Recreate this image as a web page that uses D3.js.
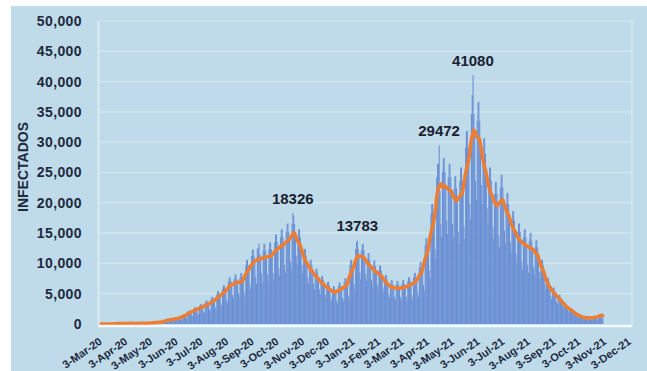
<!DOCTYPE html>
<html>
<head>
<meta charset="utf-8">
<script src="https://cdn.jsdelivr.net/npm/d3@7"></script>
<style>
  html, body { margin: 0; padding: 0; background: #ffffff; }
  svg { display: block; }
  text { font-family: "Liberation Sans", Arial, sans-serif; font-weight: bold; }
</style>
</head>
<body>
<svg id="chart" width="647" height="371"></svg>
<script>
// Daily new infections, one row per week (Tue..Mon), starting 3 March 2020
const firstDay = "2020-03-03";
const dailyCases = [
  1, 0, 0, 6, 1, 0, 4,
  2, 5, 12, 3, 10, 11, 11,
  14, 18, 31, 30, 67, 41, 35,
  36, 87, 86, 101, 55, 75, 88,
  146, 76, 91, 100, 88, 113, 67,
  87, 116, 115, 143, 87, 74, 103,
  76, 82, 94, 150, 104, 96, 90,
  94, 113, 132, 136, 111, 173, 102,
  111, 158, 144, 133, 188, 104, 135,
  178, 240, 263, 247, 264, 165, 172,
  308, 316, 375, 326, 368, 263, 254,
  472, 570, 703, 713, 696, 541, 452,
  786, 856, 797, 910, 781, 660, 553,
  904, 1135, 1096, 1056, 959, 777, 713,
  1340, 1520, 1600, 1440, 1300, 1050, 900,
  2040, 2180, 2240, 2080, 1900, 1440, 1300,
  2500, 2750, 2780, 2600, 2350, 1750, 1550,
  2950, 3250, 3300, 3050, 2750, 2050, 1800,
  3500, 3850, 3880, 3550, 3200, 2400, 2100,
  4050, 4450, 4500, 4100, 3700, 2780, 2400,
  4900, 5400, 5450, 4950, 4500, 3400, 2950,
  5800, 6350, 6400, 5850, 5300, 4000, 3450,
  7000, 7650, 7700, 7050, 6400, 4800, 4200,
  7450, 8150, 8200, 7500, 6800, 5100, 4450,
  7700, 8400, 8450, 7700, 7000, 5250, 4550,
  9650, 10550, 10600, 9700, 8800, 6600, 5700,
  11200, 12250, 12300, 11200, 10200, 7650, 6650,
  12400, 12600, 13300, 11600, 10500, 8400, 6800,
  12100, 13200, 13250, 12100, 11000, 8250, 7150,
  12300, 13450, 13500, 12300, 11200, 8400, 7300,
  13500, 14750, 14800, 13550, 12300, 9200, 8000,
  14300, 15600, 15650, 14300, 13000, 9750, 8450,
  15200, 16550, 16600, 15200, 13800, 10350, 8950,
  16500, 18326, 17900, 16500, 15000, 11250, 9750,
  14300, 15600, 15650, 14300, 13000, 9750, 8450,
  11300, 12350, 12400, 11300, 10300, 7700, 6700,
  9700, 10550, 10600, 9700, 8800, 6600, 5700,
  8350, 9100, 9150, 8350, 7600, 5700, 4950,
  7250, 7900, 7950, 7250, 6600, 4950, 4300,
  6400, 6950, 7000, 6400, 5800, 4350, 3750,
  5700, 6250, 6250, 5700, 5200, 3900, 3400,
  6250, 6850, 6850, 6250, 5700, 4300, 3700,
  6950, 7550, 7600, 6950, 6300, 4700, 4100,
  9700, 10550, 10600, 9700, 8800, 6600, 5700,
  12400, 13550, 13783, 12400, 11300, 8500, 7350,
  12100, 13200, 13250, 12100, 11000, 8250, 7150,
  10650, 11650, 11700, 10650, 9700, 7300, 6300,
  9550, 10450, 10500, 9550, 8700, 6500, 5650,
  8800, 9600, 9650, 8800, 8000, 6000, 5200,
  7350, 8050, 8100, 7350, 6700, 5000, 4350,
  6600, 7200, 7250, 6600, 6000, 4500, 3900,
  6500, 7100, 7100, 6500, 5900, 4400, 3850,
  6600, 7200, 7250, 6600, 6000, 4500, 3900,
  7050, 7700, 7700, 7050, 6400, 4800, 4150,
  7700, 8400, 8450, 7700, 7000, 5250, 4550,
  9350, 10200, 10250, 9350, 8500, 6400, 5500,
  13000, 14150, 14200, 13000, 11800, 8850, 7650,
  18150, 19800, 19850, 18150, 16500, 12400, 10700,
  24200, 26400, 26500, 29472, 22000, 16500, 14300,
  25100, 27350, 27400, 25100, 22800, 17100, 14800,
  24200, 26400, 26450, 24200, 22000, 16500, 14300,
  22350, 24350, 24400, 22350, 20300, 15200, 13200,
  23650, 25800, 25850, 23650, 21500, 16100, 14000,
  29150, 31800, 31850, 29150, 26500, 19900, 17200,
  34650, 37800, 41080, 34650, 31500, 23600, 20500,
  33550, 36600, 36650, 33550, 30500, 22900, 19800,
  28050, 30600, 30650, 28050, 25500, 19100, 16600,
  23650, 25800, 25850, 23650, 21500, 16100, 14000,
  21450, 23400, 23450, 21450, 19500, 14600, 12700,
  22550, 24600, 24650, 22550, 20500, 15400, 13300,
  19800, 21600, 21650, 19800, 18000, 13500, 11700,
  17050, 18600, 18650, 17050, 15500, 11600, 10100,
  15200, 16550, 16600, 15200, 13800, 10350, 8950,
  14300, 15600, 15650, 14300, 13000, 9750, 8450,
  13750, 15000, 15050, 13750, 12500, 9400, 8100,
  12650, 13800, 13850, 12650, 11500, 8600, 7500,
  9700, 10550, 10600, 9700, 8800, 6600, 5700,
  6950, 7550, 7600, 6950, 6300, 4700, 4100,
  5500, 6000, 6050, 5500, 5000, 3750, 3250,
  4400, 4800, 4850, 4400, 4000, 3000, 2600,
  3200, 3500, 3500, 3200, 2900, 2200, 1900,
  2400, 2650, 2650, 2400, 2200, 1650, 1450,
  1650, 1800, 1800, 1650, 1500, 1100, 1000,
  1200, 1300, 1350, 1200, 1100, 800, 700,
  1100, 1200, 1200, 1100, 1000, 750, 650,
  1200, 1300, 1350, 1200, 1100, 800, 700,
  1500, 1600, 1650, 1500, 1350, 1000
];

// Days whose counts are printed above the bars
const peakDates = ["2020-10-21", "2021-01-07", "2021-04-16", "2021-05-27"];

const yTicks = [0, 5000, 10000, 15000, 20000, 25000, 30000, 35000, 40000, 45000, 50000];
const xTickLabels = ["3-Mar-20", "3-Apr-20", "3-May-20", "3-Jun-20", "3-Jul-20", "3-Aug-20",
  "3-Sep-20", "3-Oct-20", "3-Nov-20", "3-Dec-20", "3-Jan-21", "3-Feb-21", "3-Mar-21",
  "3-Apr-21", "3-May-21", "3-Jun-21", "3-Jul-21", "3-Aug-21", "3-Sep-21", "3-Oct-21",
  "3-Nov-21", "3-Dec-21"];
const yTitle = "INFECTADOS";

const parseIso = d3.utcParse("%Y-%m-%d");
const parseTick = d3.utcParse("%-d-%b-%y");
const start = parseIso(firstDay);
const data = dailyCases.map((v, i) => ({ date: d3.utcDay.offset(start, i), value: v }));

// centred 7-day average
const avg = data.map((d, i) => {
  const win = data.slice(Math.max(0, i - 3), Math.min(data.length, i + 4));
  return { date: d.date, value: d3.mean(win, w => w.value) };
});

const tickDates = xTickLabels.map(parseTick);

const svg = d3.select("#chart");
const plotLeft = 98, plotRight = 632, plotTop = 21, plotBottom = 324;

const x = d3.scaleUtc().domain([tickDates[0], tickDates[tickDates.length - 1]]).range([101, 630]);
const y = d3.scaleLinear().domain([0, 50000]).range([plotBottom, plotTop]);

// panel background
svg.append("rect").attr("x", 11).attr("y", 6).attr("width", 636).attr("height", 365)
  .attr("fill", "#bfdbea");

// horizontal gridlines
svg.append("g").selectAll("line").data(yTicks.slice(1)).join("line")
  .attr("x1", plotLeft).attr("x2", plotRight)
  .attr("y1", d => y(d)).attr("y2", d => y(d))
  .attr("stroke", "#d3e7f1").attr("stroke-width", 1.2);

// right edge of plot area
svg.append("line").attr("x1", plotRight).attr("x2", plotRight)
  .attr("y1", plotTop - 1).attr("y2", plotBottom + 2)
  .attr("stroke", "#d6e8f2").attr("stroke-width", 1.5);

// daily bars
const dayW = x(d3.utcDay.offset(start, 1)) - x(start);
svg.append("g").selectAll("rect").data(data).join("rect")
  .attr("x", d => x(d.date) - dayW / 2)
  .attr("width", dayW + 0.25)
  .attr("y", d => y(d.value))
  .attr("height", d => y(0) - y(d.value))
  .attr("fill", "#6b8fd4");

// 7-day average line
svg.append("path").datum(avg)
  .attr("fill", "none")
  .attr("stroke", "#ee7d31")
  .attr("stroke-width", 3.5)
  .attr("stroke-linejoin", "round")
  .attr("stroke-linecap", "round")
  .attr("d", d3.line().x(d => x(d.date)).y(d => y(d.value)));

// y axis
const yAxis = svg.append("g").attr("transform", `translate(${plotLeft},0)`)
  .call(d3.axisLeft(y).tickValues(yTicks).tickFormat(d3.format(",")).tickSize(0).tickPadding(16));
yAxis.select(".domain").attr("stroke", "#dcecf4").attr("stroke-width", 2);
yAxis.selectAll("text").attr("fill", "#1e2a40").style("font-size", "14px")
  .style("font-family", "'Liberation Sans', Arial, sans-serif").style("font-weight", "bold")
  .style("letter-spacing", "0.4px");

// x axis
const xAxis = svg.append("g").attr("transform", `translate(0,${plotBottom + 2})`)
  .call(d3.axisBottom(x).tickValues(tickDates).tickFormat((d, i) => xTickLabels[i]).tickSize(0));
xAxis.select(".domain").attr("stroke", "#f4f9fc").attr("stroke-width", 2.5)
  .attr("d", `M${plotLeft},0H${plotRight}`);
xAxis.selectAll("text")
  .attr("x", 0).attr("y", 0).attr("dy", "0.35em")
  .attr("transform", "translate(-1,14) rotate(-35)")
  .style("text-anchor", "end")
  .attr("fill", "#1e2a40").style("font-size", "11px")
  .style("font-family", "'Liberation Sans', Arial, sans-serif").style("font-weight", "bold");

// y axis title
svg.append("text")
  .attr("transform", "translate(28,167) rotate(-90)")
  .attr("text-anchor", "middle")
  .attr("fill", "#1e2a40").style("font-size", "14px")
  .text(yTitle);

// peak value labels
const peaks = peakDates.map(s => {
  const dt = parseIso(s);
  return data.find(d => +d.date === +dt);
});
svg.append("g").selectAll("text").data(peaks).join("text")
  .attr("x", d => x(d.date))
  .attr("y", d => y(d.value) - 9)
  .attr("text-anchor", "middle")
  .attr("fill", "#1b2130").style("font-size", "15px")
  .text(d => d.value);
</script>
</body>
</html>
